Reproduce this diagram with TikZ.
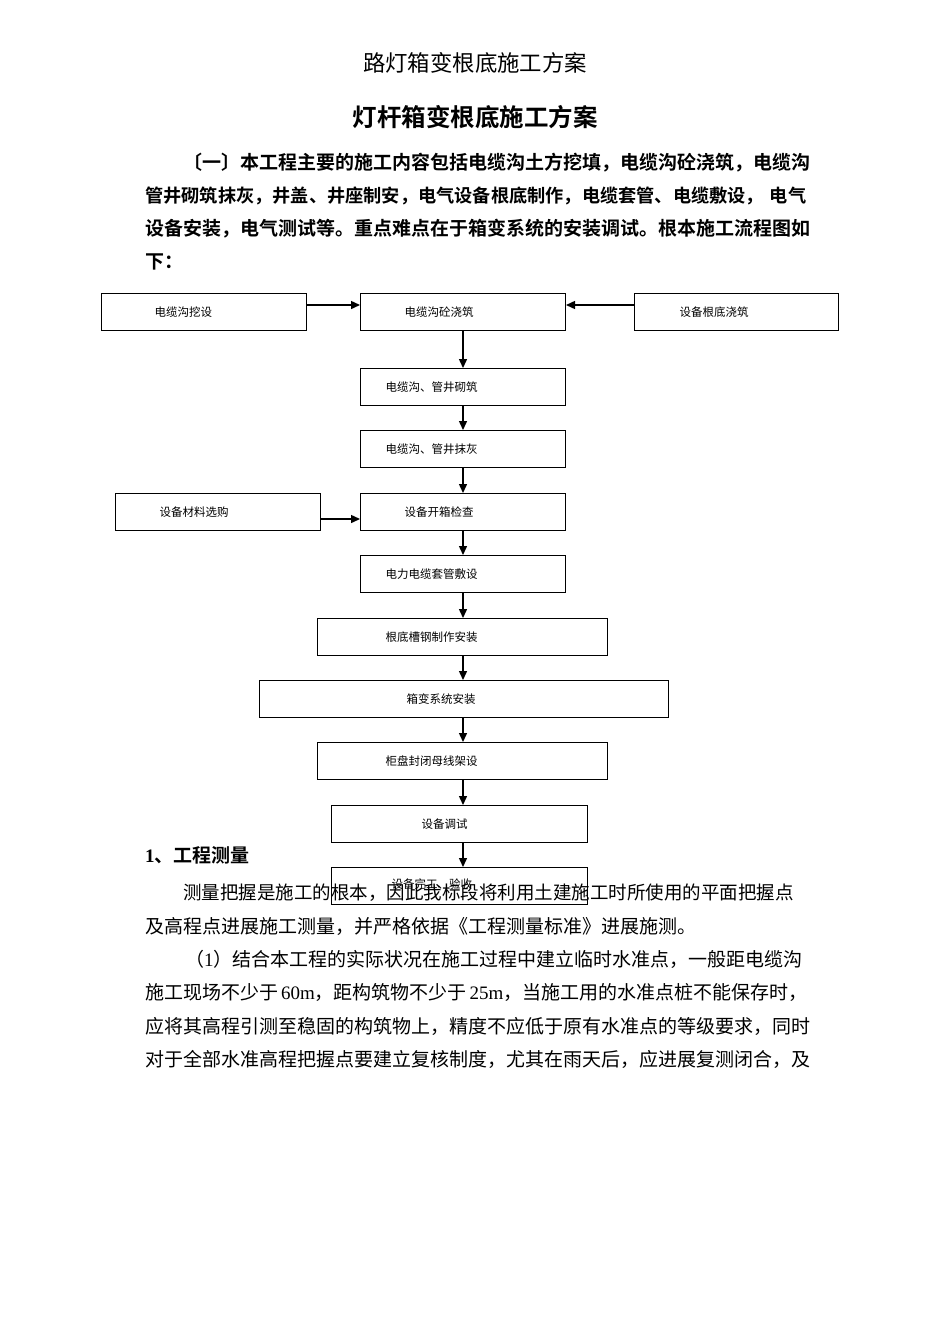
\documentclass[tikz,border=0pt]{standalone}
\usepackage{fontspec}
\setmainfont[BoldFont={Noto Sans CJK SC Bold}]{Noto Sans CJK SC}
\newfontfamily\latinserif{Liberation Serif}
\usetikzlibrary{arrows.meta,positioning}
\XeTeXlinebreaklocale "zh"
\XeTeXlinebreakskip=0pt plus 3pt minus 2pt

\begin{document}
\begin{tikzpicture}[x=1pt,y=-1pt,
  flowbox/.style={draw,line width=1pt,anchor=north west,inner xsep=0pt,inner ysep=0pt,
    minimum height=37pt,align=left,font=\fontsize{11.5}{13}\selectfont},
  flowarrow/.style={-{Triangle[length=9pt,width=8pt]},line width=1.4pt},
  bodyline/.style={anchor=west,inner sep=0pt,font=\fontsize{19}{19}\selectfont},
  boldline/.style={bodyline,font=\bfseries\fontsize{19}{19}\selectfont}]

\useasboundingbox (0,0) rectangle (950,1344);
\fill[white] (0,0) rectangle (950,1344);

\node[inner sep=0pt,font=\fontsize{22.4}{24}\selectfont] (head) at (475,63) {路灯箱变根底施工方案};
\node[inner sep=0pt,font=\bfseries\fontsize{24.5}{26}\selectfont] (title) at (475,117) {灯杆箱变根底施工方案};

\node[boldline] (intro1) at (183,163) {\hbox to 629pt{〔一〕本工程主要的施工内容包括电缆沟土方挖填，电缆沟砼浇筑，电缆沟}};
\node[boldline,font=\bfseries\fontsize{18.2}{19}\selectfont] (intro2) at (145,196) {\hbox to 667pt{管井砌筑抹灰，井盖、井座制安，电气设备根底制作，电缆套管、电缆敷设，\hspace{6pt}电气}};
\node[boldline] (intro3) at (145,229) {\hbox to 667pt{设备安装，电气测试等。重点难点在于箱变系统的安装调试。根本施工流程图如}};
\node[boldline] (intro4) at (145,262) {下：};

% flow chart
\node[flowbox,text width=205pt] (dig) at (101,293) {\hspace*{53pt}电缆沟挖设};
\node[flowbox,text width=205pt] (pour) at (360,293) {\hspace*{44pt}电缆沟砼浇筑};
\node[flowbox,text width=204pt] (basepour) at (634,293) {\hspace*{45pt}设备根底浇筑};
\node[flowbox,text width=205pt] (brick) at (360,368) {\hspace*{25pt}电缆沟、管井砌筑};
\node[flowbox,text width=205pt] (plaster) at (360,430) {\hspace*{25pt}电缆沟、管井抹灰};
\node[flowbox,text width=205pt] (purchase) at (115,493) {\hspace*{44pt}设备材料选购};
\node[flowbox,text width=205pt] (unpack) at (360,493) {\hspace*{44pt}设备开箱检查};
\node[flowbox,text width=205pt] (conduit) at (360,555) {\hspace*{25pt}电力电缆套管敷设};
\node[flowbox,text width=290pt] (channel) at (317,618) {\hspace*{68pt}根底槽钢制作安装};
\node[flowbox,text width=409pt] (boxsys) at (259,680) {\hspace*{147pt}箱变系统安装};
\node[flowbox,text width=290pt] (busbar) at (317,742) {\hspace*{68pt}柜盘封闭母线架设};
\node[flowbox,text width=256pt] (debug) at (331,805) {\hspace*{90pt}设备调试};
\node[flowbox,text width=256pt] (finish) at (331,867) {\hspace*{60pt}\raisebox{4pt}{设备完工、验收}};

\draw[flowarrow] ([yshift=7pt]dig.east) -- ([yshift=7pt]pour.west);
\draw[flowarrow] ([yshift=7pt]basepour.west) -- ([yshift=7pt]pour.east);
\draw[flowarrow] ([yshift=-7pt]purchase.east) -- ([yshift=-7pt]unpack.west);
\foreach \a/\b in {pour/brick,brick/plaster,plaster/unpack,unpack/conduit,conduit/channel,
    channel/boxsys,boxsys/busbar,busbar/debug,debug/finish}
  \draw[flowarrow] (\a.south -| pour.south) -- (\b.north -| pour.south);

\node[boldline] (sec1) at (145,855) {{\latinserif\bfseries 1}、工程测量};
\node[bodyline,font=\fontsize{18.5}{19}\selectfont] (body1) at (183,893) {\hbox to 610pt{测量把握是施工的根本，因此我标段将利用土建施工时所使用的平面把握点}};
\node[bodyline] (body2) at (145,926) {及高程点进展施工测量，并严格依据《工程测量标准》进展施测。};
\node[bodyline] (body3) at (185,959) {\hbox to 618pt{（{\latinserif 1}）结合本工程的实际状况在施工过程中建立临时水准点，一般距电缆沟}};
\node[bodyline] (body4) at (145,992) {\hbox to 661pt{施工现场不少于\ {\latinserif 60m}，距构筑物不少于\ {\latinserif 25m}，当施工用的水准点桩不能保存时，}};
\node[bodyline] (body5) at (145,1026) {\hbox to 653pt{应将其高程引测至稳固的构筑物上，精度不应低于原有水准点的等级要求，同时}};
\node[bodyline] (body6) at (145,1059) {\hbox to 667pt{对于全部水准高程把握点要建立复核制度，尤其在雨天后，应进展复测闭合，及}};
\end{tikzpicture}
\end{document}
